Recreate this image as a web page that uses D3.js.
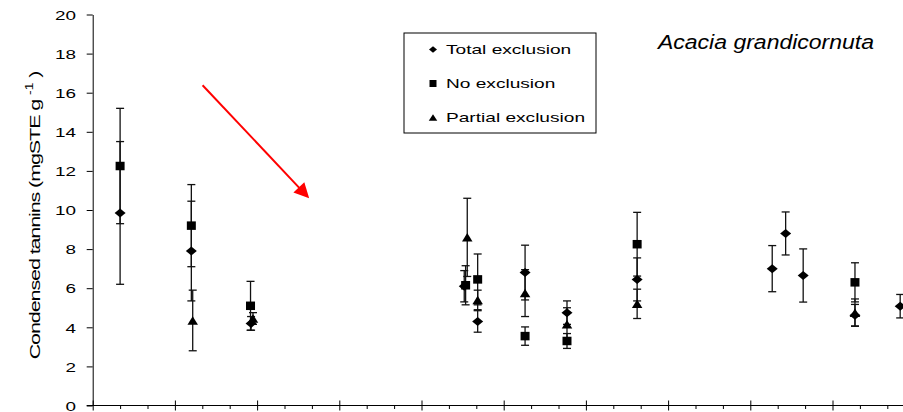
<!DOCTYPE html>
<html>
<head>
<meta charset="utf-8">
<script src="https://cdn.jsdelivr.net/npm/d3@7"></script>
<style>
  body { margin: 0; background: #fff; }
  svg { display: block; font-family: "Liberation Sans", Arial, sans-serif; }
</style>
</head>
<body>
<div id="chart"></div>
<script>
// ---- data (x in axis units: 30 per major tick, y = mg STE g-1, err = half bar) ----
const totalX   = [10, 36, 57.8, 135.6, 140.5, 157.8, 173.1, 198.7, 248.0, 252.9, 259.3, 278.2, 294.7];
const totalY   = [9.85, 7.9, 4.2, 6.1, 4.3, 6.8, 4.75, 6.45, 7.0, 8.8, 6.65, 4.62, 5.08];
const totalErr = [3.65, 2.55, 0.35, 0.8, 0.55, 1.4, 0.6, 1.1, 1.18, 1.1, 1.36, 0.55, 0.6];

const noX   = [10, 36, 57.6, 136.1, 140.5, 157.8, 173.1, 198.7, 278.2];
const noY   = [12.25, 9.2, 5.1, 6.15, 6.45, 3.55, 3.3, 8.25, 6.3];
const noErr = [2.95, 2.1, 1.25, 1.0, 1.3, 0.47, 0.38, 1.63, 1.0];

const partialX   = [36.5, 58.5, 136.7, 140.5, 157.8, 173.1, 198.7, 278.2];
const partialY   = [4.35, 4.45, 8.6, 5.4, 5.75, 4.15, 5.2, 4.75];
const partialErr = [1.55, 0.3, 2.0, 0.5, 1.2, 0.85, 0.75, 0.7];

const seriesNames = ["Total exclusion", "No exclusion", "Partial exclusion"];
const yTickValues = [0, 2, 4, 6, 8, 10, 12, 14, 16, 18, 20];
const xMajorTicks = [0, 30, 60, 90, 120, 150, 180, 210, 240, 270, 300];
const xMinorTicks = [10, 20, 40, 50, 70, 80, 100, 110, 130, 140, 160, 170, 190, 200, 220, 230, 250, 260, 280, 290];
// red annotation arrow, from -> to, in data units
const arrowFrom = [40.1, 16.38];
const arrowTo   = [79.0, 10.6];

// ---- setup ----
const width = 903, height = 412;
const svg = d3.select("#chart").append("svg")
  .attr("width", width)
  .attr("height", height);

const x = d3.scaleLinear().domain([0, 300]).range([92.7, 914.7]);
const y = d3.scaleLinear().domain([0, 20]).range([405.5, 14.5]);

// ---- y axis ----
const yAxis = svg.append("g")
  .attr("transform", `translate(${x(0)},0)`)
  .call(d3.axisLeft(y).tickValues(yTickValues).tickSize(6).tickSizeOuter(0));
yAxis.select(".domain").attr("stroke", "#000");
yAxis.selectAll(".tick line").attr("stroke", "#000");
yAxis.selectAll(".tick text")
  .attr("x", 0)
  .attr("dy", "0.36em")
  .attr("transform", "translate(-16.7,0) scale(1.42,1)")
  .style("font-size", "13.3px")
  .attr("fill", "#000");

// ---- x axis (no labels, crossing major ticks, minor ticks below) ----
svg.append("line")
  .attr("x1", x(0) - 6).attr("x2", width)
  .attr("y1", y(0)).attr("y2", y(0))
  .attr("stroke", "#000");

const xMaj = svg.append("g")
  .attr("transform", `translate(0,${y(0)})`)
  .call(d3.axisBottom(x).tickValues(xMajorTicks).tickSize(5).tickFormat(""));
xMaj.select(".domain").remove();
xMaj.selectAll(".tick line").attr("y1", -5).attr("stroke", "#000");

const xMin = svg.append("g")
  .attr("transform", `translate(0,${y(0)})`)
  .call(d3.axisBottom(x).tickValues(xMinorTicks).tickSize(3.5).tickFormat(""));
xMin.select(".domain").remove();
xMin.selectAll(".tick line").attr("stroke", "#000");

// ---- y axis title (squeezed look of the original) ----
const yTitle = svg.append("g")
  .attr("transform", "translate(39.5,215.5) rotate(-90)")
  .append("text")
  .attr("text-anchor", "middle")
  .attr("transform", "scale(1.4,1)")
  .style("font-size", "15.4px")
  .style("letter-spacing", "-0.8px")
  .attr("fill", "#000");
yTitle.append("tspan").text("Condensed tannins (mgSTE g ");
yTitle.append("tspan").attr("dy", -7).style("font-size", "10px").style("letter-spacing", "0px").text("-1");
yTitle.append("tspan").attr("dy", 7).text(" )");

// ---- series ----
const zip = (xs, ys, es) => xs.map((v, i) => ({x: v, y: ys[i], e: es[i]}));
const series = [
  {name: seriesNames[0], shape: "diamond",  data: zip(totalX, totalY, totalErr)},
  {name: seriesNames[1], shape: "square",   data: zip(noX, noY, noErr)},
  {name: seriesNames[2], shape: "triangle", data: zip(partialX, partialY, partialErr)}
];

function shapePath(shape, w, h) {
  if (shape === "diamond") return `M0,${-h/2}L${w/2},0L0,${h/2}L${-w/2},0Z`;
  if (shape === "square") return `M${-w/2},${-h/2}H${w/2}V${h/2}H${-w/2}Z`;
  return `M0,${-h/2}L${w/2},${h/2}L${-w/2},${h/2}Z`;
}
const markerSize = {diamond: [11, 9], square: [9, 8.5], triangle: [10.5, 8.5]};

const plot = svg.append("g");

// error bars first
series.forEach(s => {
  const eb = plot.append("g").selectAll("g")
    .data(s.data).join("g")
    .attr("stroke", "#111")
    .attr("stroke-width", 1.3);
  eb.append("line")
    .attr("x1", d => x(d.x)).attr("x2", d => x(d.x))
    .attr("y1", d => y(d.y + d.e)).attr("y2", d => y(d.y - d.e));
  eb.append("line")
    .attr("x1", d => x(d.x) - 4).attr("x2", d => x(d.x) + 4)
    .attr("y1", d => y(d.y + d.e)).attr("y2", d => y(d.y + d.e));
  eb.append("line")
    .attr("x1", d => x(d.x) - 4).attr("x2", d => x(d.x) + 4)
    .attr("y1", d => y(d.y - d.e)).attr("y2", d => y(d.y - d.e));
});

series.forEach(s => {
  const [w, h] = markerSize[s.shape];
  plot.append("g").selectAll("path")
    .data(s.data).join("path")
    .attr("d", shapePath(s.shape, w, h))
    .attr("transform", d => `translate(${x(d.x)},${y(d.y)})`)
    .attr("fill", "#000");
});

// ---- red arrow ----
const ax0 = x(arrowFrom[0]), ay0 = y(arrowFrom[1]);
const ax1 = x(arrowTo[0]),   ay1 = y(arrowTo[1]);
const ang = Math.atan2(ay1 - ay0, ax1 - ax0);
const headLen = 15, headHalf = 7.5;
const bx = ax1 - headLen * Math.cos(ang), by = ay1 - headLen * Math.sin(ang);
svg.append("line")
  .attr("x1", ax0).attr("y1", ay0)
  .attr("x2", bx + 2 * Math.cos(ang)).attr("y2", by + 2 * Math.sin(ang))
  .attr("stroke", "#ff0000").attr("stroke-width", 2);
svg.append("path")
  .attr("d", `M${ax1},${ay1}L${bx - headHalf * Math.sin(ang)},${by + headHalf * Math.cos(ang)}L${bx + headHalf * Math.sin(ang)},${by - headHalf * Math.cos(ang)}Z`)
  .attr("fill", "#ff0000");

// ---- legend ----
const legend = svg.append("g").attr("transform", "translate(404,33)");
legend.append("rect")
  .attr("width", 192).attr("height", 100)
  .attr("fill", "#fff").attr("stroke", "#000").attr("stroke-width", 1);
const legendMarker = {diamond: [8, 6.5], square: [7, 7], triangle: [8.5, 6.5]};
series.forEach((s, i) => {
  const row = legend.append("g").attr("transform", `translate(0,${16.5 + i * 34})`);
  const [w, h] = legendMarker[s.shape];
  row.append("path")
    .attr("d", shapePath(s.shape, w, h))
    .attr("transform", "translate(29,0)")
    .attr("fill", "#000");
  row.append("text")
    .attr("transform", "translate(42,4.8) scale(1.47,1)")
    .style("font-size", "13px")
    .attr("fill", "#000")
    .text(s.name);
});

// ---- species title ----
svg.append("text")
  .attr("transform", "translate(658,49.3) scale(1.18,1)")
  .style("font-size", "19.5px")
  .style("font-style", "italic")
  .attr("fill", "#000")
  .text("Acacia grandicornuta");
</script>
</body>
</html>
